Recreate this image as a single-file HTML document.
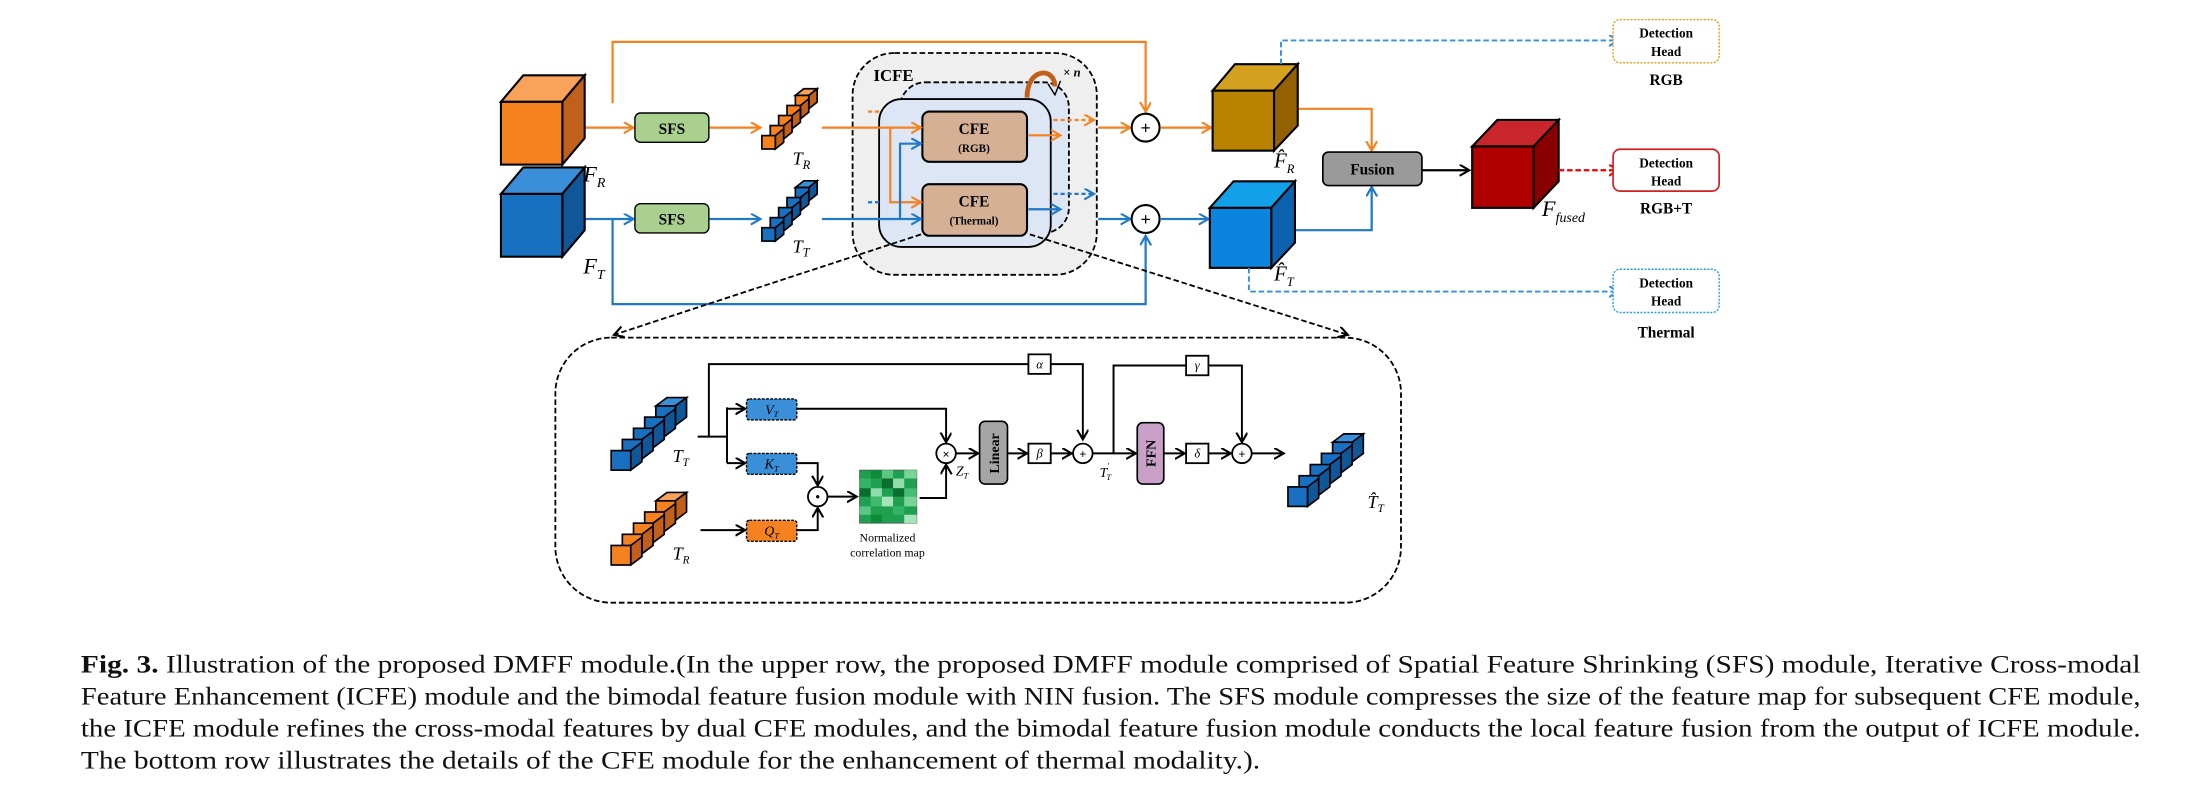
<!DOCTYPE html>
<html><head><meta charset="utf-8"><style>
html,body{margin:0;padding:0;background:#fff;}
svg{display:block;}
</style></head><body>
<svg width="2188" height="791" viewBox="0 0 1568 567" preserveAspectRatio="none" xmlns="http://www.w3.org/2000/svg" font-family="'Liberation Serif', serif">
<defs>
<marker id="ao" markerUnits="userSpaceOnUse" markerWidth="10" markerHeight="10" refX="7" refY="4" orient="auto"><path d="M0,0 L7,4 L0,8" fill="none" stroke="#f5821f" stroke-width="1.5"/></marker>
<marker id="ab" markerUnits="userSpaceOnUse" markerWidth="10" markerHeight="10" refX="7" refY="4" orient="auto"><path d="M0,0 L7,4 L0,8" fill="none" stroke="#1f78c8" stroke-width="1.5"/></marker>
<marker id="ak" markerUnits="userSpaceOnUse" markerWidth="10" markerHeight="10" refX="7" refY="4" orient="auto"><path d="M0,0 L7,4 L0,8" fill="none" stroke="#000" stroke-width="1.5"/></marker>
<marker id="ar" markerUnits="userSpaceOnUse" markerWidth="10" markerHeight="10" refX="7" refY="4" orient="auto"><path d="M0,0 L7,4 L0,8" fill="none" stroke="#e00" stroke-width="1.5"/></marker>
<marker id="al" markerUnits="userSpaceOnUse" markerWidth="10" markerHeight="10" refX="7" refY="4" orient="auto"><path d="M0,0 L7,4 L0,8" fill="none" stroke="#3a8fd8" stroke-width="1.5"/></marker>
</defs>

<!-- ICFE -->
<rect x="611" y="38" width="175" height="159" rx="30" fill="#efefef" stroke="#000" stroke-width="1.3" stroke-dasharray="4,2"/>
<rect x="645" y="59" width="121" height="108" rx="18" fill="#dce6f4" stroke="#000" stroke-width="1.3" stroke-dasharray="4,2"/>
<rect x="630" y="71" width="123" height="106" rx="16" fill="#dce6f4" stroke="#000" stroke-width="1.3"/>
<text x="626" y="58" font-size="12" font-weight="bold">ICFE</text>
<path d="M736,70 C736,48 756,48 756,62" fill="none" stroke="#c0601a" stroke-width="3.5"/>
<path d="M751,60 L756,68 L760,58" fill="none" stroke="#000" stroke-width="1"/>
<text x="762" y="55" font-size="9" font-weight="bold">× <tspan font-style="italic">n</tspan></text>
<rect x="661" y="80" width="75" height="36" rx="5" fill="#d5b095" stroke="#000" stroke-width="1.5"/>
<text x="698" y="96" font-size="11" font-weight="bold" text-anchor="middle">CFE</text>
<text x="698" y="109" font-size="8" font-weight="bold" text-anchor="middle">(RGB)</text>
<rect x="661" y="132" width="75" height="37" rx="5" fill="#d5b095" stroke="#000" stroke-width="1.5"/>
<text x="698" y="148" font-size="11" font-weight="bold" text-anchor="middle">CFE</text>
<text x="698" y="161" font-size="8" font-weight="bold" text-anchor="middle">(Thermal)</text>

<!-- orange stream -->
<g stroke="#f5821f" stroke-width="1.6" fill="none">
<path d="M439,74 L439,30 L821,30 L821,80" marker-end="url(#ao)"/>
<path d="M419,91.5 L454,91.5" marker-end="url(#ao)"/>
<path d="M508,91.5 L545,91.5" marker-end="url(#ao)"/>
<path d="M589,91.5 L660,91.5" marker-end="url(#ao)"/>
<path d="M638,91.5 L638,145 L660,145" marker-end="url(#ao)"/>
<path d="M622,80 L632,80" stroke-dasharray="3,2"/>
<path d="M755,86 L784,86" stroke-dasharray="3,2" marker-end="url(#ao)"/>
<path d="M737,97 L760,97" marker-end="url(#ao)"/>
<path d="M787,91.5 L810,91.5" marker-end="url(#ao)"/>
<path d="M832,91.5 L868,91.5" marker-end="url(#ao)"/>
<path d="M930,78 L983,78 L983,108" marker-end="url(#ao)"/>
</g>
<!-- blue stream -->
<g stroke="#1f78c8" stroke-width="1.6" fill="none">
<path d="M419,157 L454,157" marker-end="url(#ab)"/>
<path d="M508,157 L545,157" marker-end="url(#ab)"/>
<path d="M589,157 L660,157" marker-end="url(#ab)"/>
<path d="M645,157 L645,103 L660,103" marker-end="url(#ab)"/>
<path d="M622,145 L632,145" stroke-dasharray="3,2"/>
<path d="M755,139 L784,139" stroke-dasharray="3,2" marker-end="url(#ab)"/>
<path d="M737,150 L760,150" marker-end="url(#ab)"/>
<path d="M787,157 L810,157" marker-end="url(#ab)"/>
<path d="M832,157 L866,157" marker-end="url(#ab)"/>
<path d="M439,157 L439,218 L821,218 L821,169" marker-end="url(#ab)"/>
<path d="M928,165 L983,165 L983,134" marker-end="url(#ab)"/>
</g>
<!-- plus circles -->
<g stroke="#000" stroke-width="1.5" fill="#fff">
<circle cx="821" cy="91.5" r="10"/><circle cx="821" cy="157" r="10"/>
</g>
<text x="821" y="96" font-size="13" font-weight="bold" text-anchor="middle">+</text>
<text x="821" y="161.5" font-size="13" font-weight="bold" text-anchor="middle">+</text>

<!-- SFS -->
<rect x="455" y="81" width="53" height="21" rx="4" fill="#a9d08e" stroke="#000" stroke-width="1"/>
<text x="481.5" y="96" font-size="11" font-weight="bold" text-anchor="middle">SFS</text>
<rect x="455" y="146" width="53" height="21" rx="4" fill="#a9d08e" stroke="#000" stroke-width="1"/>
<text x="481.5" y="161" font-size="11" font-weight="bold" text-anchor="middle">SFS</text>

<!-- cubes -->
<g stroke="#000" stroke-width="1.5">
<polygon points="359,73 375,54 419,54 403,73" fill="#f9a25c"/>
<polygon points="403,73 419,54 419,99 403,118" fill="#c0601a"/>
<rect x="359" y="73" width="44" height="45" fill="#f5821f"/>
<polygon points="359,139 375,120 419,120 403,139" fill="#3a8fd8"/>
<polygon points="403,139 419,120 419,165 403,184" fill="#10579a"/>
<rect x="359" y="139" width="44" height="45" fill="#1a70c0"/>
<polygon points="869,65 885,46 930,46 913,65" fill="#d4a21e"/>
<polygon points="913,65 930,46 930,90 913,108" fill="#946100"/>
<rect x="869" y="65" width="44" height="43" fill="#b98300"/>
<polygon points="867,149 884,130 928,130 911,149" fill="#12a0e8"/>
<polygon points="911,149 928,130 928,174 911,192" fill="#0d62b0"/>
<rect x="867" y="149" width="44" height="43" fill="#0a84dc"/>
<polygon points="1055,105 1073,86 1117,86 1099,105" fill="#c8262a"/>
<polygon points="1099,105 1117,86 1117,130 1099,149" fill="#8a0000"/>
<rect x="1055" y="105" width="44" height="44" fill="#b00000"/>
</g>

<!-- tokens -->
<g stroke="#000" stroke-width="1">
<g transform="translate(546,108) scale(1.2) translate(-546,-108)">
<g transform="translate(566,75)"><polygon points="0,0 5,-4 13,-4 8,0" fill="#f9a25c"/><polygon points="8,0 13,-4 13,4 8,8" fill="#c0601a"/><rect width="8" height="8" fill="#f5821f"/></g>
<g transform="translate(561,81)"><polygon points="8,0 13,-4 13,4 8,8" fill="#c0601a"/><rect width="8" height="8" fill="#f5821f"/></g>
<g transform="translate(556,87)"><polygon points="8,0 13,-4 13,4 8,8" fill="#c0601a"/><rect width="8" height="8" fill="#f5821f"/></g>
<g transform="translate(551,93)"><polygon points="8,0 13,-4 13,4 8,8" fill="#c0601a"/><rect width="8" height="8" fill="#f5821f"/></g>
<g transform="translate(546,99)"><polygon points="8,0 13,-4 13,4 8,8" fill="#c0601a"/><rect width="8" height="8" fill="#f5821f"/></g>
</g>
<g transform="translate(546,174) scale(1.2) translate(-546,-174)">
<g transform="translate(566,141)"><polygon points="0,0 5,-4 13,-4 8,0" fill="#3a8fd8"/><polygon points="8,0 13,-4 13,4 8,8" fill="#10579a"/><rect width="8" height="8" fill="#1a70c0"/></g>
<g transform="translate(561,147)"><polygon points="8,0 13,-4 13,4 8,8" fill="#10579a"/><rect width="8" height="8" fill="#1a70c0"/></g>
<g transform="translate(556,153)"><polygon points="8,0 13,-4 13,4 8,8" fill="#10579a"/><rect width="8" height="8" fill="#1a70c0"/></g>
<g transform="translate(551,159)"><polygon points="8,0 13,-4 13,4 8,8" fill="#10579a"/><rect width="8" height="8" fill="#1a70c0"/></g>
<g transform="translate(546,165)"><polygon points="8,0 13,-4 13,4 8,8" fill="#10579a"/><rect width="8" height="8" fill="#1a70c0"/></g>
</g>
</g>

<!-- labels top -->
<g font-style="italic" font-size="16">
<text x="418" y="130">F<tspan font-size="10" dy="4">R</tspan></text>
<text x="418" y="196">F<tspan font-size="10" dy="4">T</tspan></text>
<text x="568" y="118" font-size="13">T<tspan font-size="9" dy="3">R</tspan></text>
<text x="568" y="181" font-size="13">T<tspan font-size="9" dy="3">T</tspan></text>
<text x="913" y="120" font-size="15">F̂<tspan font-size="9" dy="4">R</tspan></text>
<text x="913" y="201" font-size="15">F̂<tspan font-size="9" dy="4">T</tspan></text>
<text x="1105" y="155">F<tspan font-size="10" dy="4">fused</tspan></text>
</g>

<!-- fusion -->
<rect x="948" y="109" width="71" height="24" rx="4" fill="#9a9a9a" stroke="#000" stroke-width="1.2"/>
<text x="983.5" y="125" font-size="11" font-weight="bold" text-anchor="middle">Fusion</text>
<path d="M1019,122 L1053,122" stroke="#000" stroke-width="1.6" marker-end="url(#ak)"/>
<path d="M1117,122 L1160,122" stroke="#e00" stroke-width="1.6" stroke-dasharray="4,2" marker-end="url(#ar)"/>
<path d="M918,46 L918,29 L1160,29" fill="none" stroke="#3a8fd8" stroke-width="1.4" stroke-dasharray="4,2" marker-end="url(#al)"/>
<path d="M895,192 L895,209 L1160,209" fill="none" stroke="#3a8fd8" stroke-width="1.4" stroke-dasharray="4,2" marker-end="url(#al)"/>

<!-- detection heads -->
<rect x="1156" y="14" width="76" height="31" rx="5" fill="#fff" stroke="#e0a020" stroke-width="1" stroke-dasharray="1.5,1"/>
<rect x="1156" y="107" width="76" height="30" rx="5" fill="#fff" stroke="#d02020" stroke-width="1.2"/>
<rect x="1156" y="193" width="76" height="31" rx="5" fill="#fff" stroke="#2aa0e8" stroke-width="1" stroke-dasharray="1.5,1"/>
<g font-size="9.5" font-weight="bold" text-anchor="middle">
<text x="1194" y="27">Detection</text><text x="1194" y="40">Head</text>
<text x="1194" y="120">Detection</text><text x="1194" y="133">Head</text>
<text x="1194" y="206">Detection</text><text x="1194" y="219">Head</text>
</g>
<g font-size="11" font-weight="bold" text-anchor="middle">
<text x="1194" y="61">RGB</text><text x="1194" y="153">RGB+T</text><text x="1194" y="242">Thermal</text>
</g>

<!-- zoom lines -->
<path d="M660,168 L440,240" stroke="#000" stroke-width="1.3" stroke-dasharray="4,2" marker-end="url(#ak)"/>
<path d="M738,168 L966,240" stroke="#000" stroke-width="1.3" stroke-dasharray="4,2" marker-end="url(#ak)"/>

<!-- bottom box -->
<rect x="398" y="242" width="606" height="190" rx="40" fill="none" stroke="#000" stroke-width="1.3" stroke-dasharray="4,2"/>

<!-- bottom tokens -->
<g stroke="#000" stroke-width="1.2">
<g transform="translate(470,291)"><polygon points="0,0 8,-6 22,-6 14,0" fill="#3a8fd8"/></g>
<g transform="translate(470,291)"><polygon points="14,0 22,-6 22,8 14,14" fill="#10579a"/><rect width="14" height="14" fill="#1a70c0"/></g>
<g transform="translate(462,299)"><polygon points="14,0 22,-6 22,8 14,14" fill="#10579a"/><rect width="14" height="14" fill="#1a70c0"/></g>
<g transform="translate(454,307)"><polygon points="14,0 22,-6 22,8 14,14" fill="#10579a"/><rect width="14" height="14" fill="#1a70c0"/></g>
<g transform="translate(446,315)"><polygon points="14,0 22,-6 22,8 14,14" fill="#10579a"/><rect width="14" height="14" fill="#1a70c0"/></g>
<g transform="translate(438,323)"><polygon points="14,0 22,-6 22,8 14,14" fill="#10579a"/><rect width="14" height="14" fill="#1a70c0"/></g>

<g transform="translate(470,359)"><polygon points="0,0 8,-6 22,-6 14,0" fill="#f9a25c"/></g>
<g transform="translate(470,359)"><polygon points="14,0 22,-6 22,8 14,14" fill="#c0601a"/><rect width="14" height="14" fill="#f5821f"/></g>
<g transform="translate(462,367)"><polygon points="14,0 22,-6 22,8 14,14" fill="#c0601a"/><rect width="14" height="14" fill="#f5821f"/></g>
<g transform="translate(454,375)"><polygon points="14,0 22,-6 22,8 14,14" fill="#c0601a"/><rect width="14" height="14" fill="#f5821f"/></g>
<g transform="translate(446,383)"><polygon points="14,0 22,-6 22,8 14,14" fill="#c0601a"/><rect width="14" height="14" fill="#f5821f"/></g>
<g transform="translate(438,391)"><polygon points="14,0 22,-6 22,8 14,14" fill="#c0601a"/><rect width="14" height="14" fill="#f5821f"/></g>

<g transform="translate(955,317)"><polygon points="0,0 8,-6 22,-6 14,0" fill="#3a8fd8"/></g>
<g transform="translate(955,317)"><polygon points="14,0 22,-6 22,8 14,14" fill="#10579a"/><rect width="14" height="14" fill="#1a70c0"/></g>
<g transform="translate(947,325)"><polygon points="14,0 22,-6 22,8 14,14" fill="#10579a"/><rect width="14" height="14" fill="#1a70c0"/></g>
<g transform="translate(939,333)"><polygon points="14,0 22,-6 22,8 14,14" fill="#10579a"/><rect width="14" height="14" fill="#1a70c0"/></g>
<g transform="translate(931,341)"><polygon points="14,0 22,-6 22,8 14,14" fill="#10579a"/><rect width="14" height="14" fill="#1a70c0"/></g>
<g transform="translate(923,349)"><polygon points="14,0 22,-6 22,8 14,14" fill="#10579a"/><rect width="14" height="14" fill="#1a70c0"/></g>
</g>

<!-- bottom connectors -->
<g stroke="#000" stroke-width="1.4" fill="none">
<path d="M500,313 L521,313"/>
<path d="M508,313 L508,261 L776,261 L776,315" marker-end="url(#ak)"/>
<path d="M521,292 L521,332"/>
<path d="M521,293 L534,293" marker-end="url(#ak)"/>
<path d="M521,332 L534,332" marker-end="url(#ak)"/>
<path d="M502,380 L534,380" marker-end="url(#ak)"/>
<path d="M571,293 L678,293 L678,317" marker-end="url(#ak)"/>
<path d="M571,332 L586,332 L586,348" marker-end="url(#ak)"/>
<path d="M571,380 L586,380 L586,364" marker-end="url(#ak)"/>
<path d="M593,356 L614,356" marker-end="url(#ak)"/>
<path d="M659,357 L678,357 L678,333" marker-end="url(#ak)"/>
<path d="M685,325 L701,325" marker-end="url(#ak)"/>
<path d="M722,325 L736,325" marker-end="url(#ak)"/>
<path d="M753,325 L768,325" marker-end="url(#ak)"/>
<path d="M783,325 L814,325" marker-end="url(#ak)"/>
<path d="M798,325 L798,262 L890,262 L890,317" marker-end="url(#ak)"/>
<path d="M834,325 L849,325" marker-end="url(#ak)"/>
<path d="M866,325 L882,325" marker-end="url(#ak)"/>
<path d="M897,325 L920,325" marker-end="url(#ak)"/>
</g>
<g stroke="#000" stroke-width="1.3" fill="#fff">
<circle cx="678" cy="325" r="7"/><circle cx="586" cy="356" r="7"/><circle cx="776" cy="325" r="7"/><circle cx="890" cy="325" r="7"/>
<rect x="737" y="254" width="16" height="14"/>
<rect x="850" y="255" width="16" height="14"/>
<rect x="737" y="318" width="16" height="14"/>
<rect x="850" y="318" width="16" height="14"/>
</g>
<g font-size="9" font-weight="bold" text-anchor="middle">
<text x="678" y="328.5">×</text><text x="586" y="359">•</text><text x="776" y="328.5">+</text><text x="890" y="328.5">+</text>
</g>
<g font-size="9" font-style="italic" text-anchor="middle">
<text x="745" y="264">α</text><text x="858" y="265">γ</text><text x="745" y="328">β</text><text x="858" y="328">δ</text>
</g>
<rect x="535" y="286" width="36" height="15" rx="2" fill="#3a8fd8" stroke="#000" stroke-width="1" stroke-dasharray="2,1"/>
<rect x="535" y="325" width="36" height="15" rx="2" fill="#3a8fd8" stroke="#000" stroke-width="1" stroke-dasharray="2,1"/>
<rect x="535" y="373" width="36" height="15" rx="2" fill="#f5821f" stroke="#000" stroke-width="1" stroke-dasharray="2,1"/>
<g font-size="10" font-style="italic" text-anchor="middle">
<text x="553" y="297">V<tspan font-size="6" dy="2">T</tspan></text>
<text x="553" y="336">K<tspan font-size="6" dy="2">T</tspan></text>
<text x="553" y="384">Q<tspan font-size="6" dy="2">T</tspan></text>
</g>
<!-- correlation map -->
<g stroke="none">
<rect x="616" y="337" width="41" height="38" fill="#1fa050" stroke="#555" stroke-width="0.6"/>
<rect x="624" y="337" width="8" height="6" fill="#0d8a3a"/><rect x="632" y="337" width="8" height="6" fill="#5cc784"/><rect x="648" y="337" width="9" height="6" fill="#7ad49a"/>
<rect x="616" y="343" width="8" height="7" fill="#34b565"/><rect x="632" y="343" width="8" height="7" fill="#0b6e2e"/><rect x="640" y="343" width="8" height="7" fill="#8fdcac"/>
<rect x="616" y="350" width="8" height="6" fill="#0b6e2e"/><rect x="624" y="350" width="8" height="6" fill="#8fdcac"/><rect x="640" y="350" width="8" height="6" fill="#0b6e2e"/><rect x="648" y="350" width="9" height="6" fill="#45bd72"/>
<rect x="624" y="356" width="8" height="7" fill="#3dba6c"/><rect x="632" y="356" width="8" height="7" fill="#a6e4bc"/><rect x="648" y="356" width="9" height="7" fill="#7ad49a"/>
<rect x="616" y="363" width="8" height="6" fill="#5cc784"/><rect x="640" y="363" width="8" height="6" fill="#34b565"/>
<rect x="624" y="369" width="8" height="6" fill="#0d8a3a"/><rect x="648" y="369" width="9" height="6" fill="#a6e4bc"/>
</g>
<text x="636" y="388" font-size="8.5" text-anchor="middle">Normalized</text>
<text x="636" y="399" font-size="8.5" text-anchor="middle">correlation map</text>
<rect x="702" y="302" width="20" height="45" rx="4" fill="#a5a5a5" stroke="#000" stroke-width="1.2"/>
<text transform="translate(716,325) rotate(-90)" font-size="10" font-weight="bold" text-anchor="middle">Linear</text>
<rect x="815" y="303" width="19" height="44" rx="4" fill="#c9a0c7" stroke="#000" stroke-width="1.2"/>
<text transform="translate(828,325) rotate(-90)" font-size="10" font-weight="bold" text-anchor="middle">FFN</text>
<g font-style="italic">
<text x="482" y="331" font-size="13">T<tspan font-size="8" dy="3">T</tspan></text>
<text x="482" y="401" font-size="13">T<tspan font-size="8" dy="3">R</tspan></text>
<text x="685" y="341" font-size="10">Z<tspan font-size="6" dy="2">T</tspan></text>
<text x="788" y="342" font-size="10">T<tspan font-size="6" dy="-6">'</tspan><tspan font-size="6" dx="-2" dy="8">T</tspan></text>
<text x="980" y="364" font-size="13">T̂<tspan font-size="8" dy="3">T</tspan></text>
</g>

<!-- caption -->
<g font-size="18" fill="#111">
<text x="58" y="482" textLength="1476" lengthAdjust="spacingAndGlyphs"><tspan font-weight="bold">Fig. 3.</tspan> Illustration of the proposed DMFF module.(In the upper row, the proposed DMFF module comprised of Spatial Feature Shrinking (SFS) module, Iterative Cross-modal</text>
<text x="58" y="505" textLength="1476" lengthAdjust="spacingAndGlyphs">Feature Enhancement (ICFE) module and the bimodal feature fusion module with NIN fusion. The SFS module compresses the size of the feature map for subsequent CFE module,</text>
<text x="58" y="528" textLength="1476" lengthAdjust="spacingAndGlyphs">the ICFE module refines the cross-modal features by dual CFE modules, and the bimodal feature fusion module conducts the local feature fusion from the output of ICFE module.</text>
<text x="58" y="551" textLength="845" lengthAdjust="spacingAndGlyphs">The bottom row illustrates the details of the CFE module for the enhancement of thermal modality.).</text>
</g>
</svg>
</body></html>
